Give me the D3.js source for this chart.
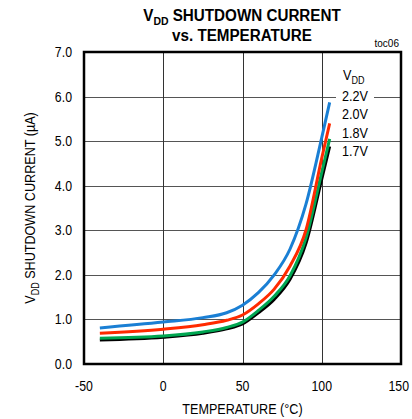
<!DOCTYPE html>
<html><head><meta charset="utf-8">
<script src="https://cdn.jsdelivr.net/npm/d3@7/dist/d3.min.js"></script>
<style>
body{margin:0;background:#fff;}
text{font-family:"Liberation Sans",Arial,sans-serif;}
</style></head>
<body><svg id="c" width="412" height="419"></svg>
<script>
const temps = [-40, 0, 25, 40, 50, 60, 70, 80, 90, 100, 105];
const v22 = [0.81, 0.94, 1.04, 1.15, 1.32, 1.60, 2.00, 2.58, 3.58, 5.08, 5.87];
const v20 = [0.69, 0.78, 0.88, 0.98, 1.10, 1.35, 1.68, 2.20, 3.00, 4.62, 5.40];
const v18 = [0.58, 0.63, 0.72, 0.82, 0.94, 1.20, 1.52, 1.98, 2.82, 4.30, 5.05];
const v17 = [0.54, 0.60, 0.69, 0.79, 0.90, 1.15, 1.45, 1.90, 2.70, 4.15, 4.88];
const seriesNames = ["2.2V", "2.0V", "1.8V", "1.7V"];
const seriesColors = ["#1a7fd4", "#ff2a00", "#00a651", "#000000"];
const xTicks = [-50, 0, 50, 100, 150];
const yTicks = [0, 1, 2, 3, 4, 5, 6, 7];

const svg = d3.select("#c");
const L = 84, R = 401, T = 52, B = 364;
const x = d3.scaleLinear().domain([-50, 150]).range([L, R]);
const y = d3.scaleLinear().domain([0, 7]).range([B, T]);

function squeeze(sel, k) {
  sel.each(function () {
    const w = this.getComputedTextLength();
    d3.select(this).attr("textLength", w * k).attr("lengthAdjust", "spacingAndGlyphs");
  });
  return sel;
}

// grid
const g = svg.append("g");
g.selectAll(".gy").data(yTicks.slice(1, -1)).enter().append("line")
  .attr("x1", L).attr("x2", R).attr("y1", d => Math.round(y(d)) + 0.5).attr("y2", d => Math.round(y(d)) + 0.5)
  .attr("stroke", "#555").attr("stroke-width", 1);
g.selectAll(".gx").data(xTicks.slice(1, -1)).enter().append("line")
  .attr("y1", T).attr("y2", B).attr("x1", d => Math.round(x(d)) + 0.5).attr("x2", d => Math.round(x(d)) + 0.5)
  .attr("stroke", "#333").attr("stroke-width", 1);

const legX = 342;
const legY = [96, 114, 133, 151];

// curves
const line = d3.line().x(d => x(d[0])).y(d => y(d[1])).curve(d3.curveMonotoneX);
const all = [v22, v20, v18, v17];
for (let i = all.length - 1; i >= 0; i--) {
  svg.append("path").datum(temps.map((t, j) => [t, all[i][j]]))
    .attr("d", line).attr("fill", "none").attr("stroke", seriesColors[i])
    .attr("stroke-width", 3).attr("stroke-linejoin", "round").attr("stroke-linecap", "butt");
}

// legend
const leg = svg.append("g");
seriesNames.forEach((n, i) => {
  leg.append("rect").attr("x", legX - 6).attr("y", legY[i] - 9).attr("width", 38).attr("height", 14).attr("fill", "#fff");
  squeeze(leg.append("text").attr("x", legX).attr("y", legY[i] + 5).attr("font-size", 14).text(n), 0.9);
});
const vdd = leg.append("text").attr("x", legX + 1).attr("y", 80).attr("font-size", 14);
vdd.append("tspan").text("V");
vdd.append("tspan").attr("font-size", 10).attr("dy", 4).text("DD");
squeeze(vdd, 0.9);

// frame
svg.append("rect").attr("x", L).attr("y", T).attr("width", R - L).attr("height", B - T)
  .attr("fill", "none").attr("stroke", "#000").attr("stroke-width", 2.5);

// axes tick labels
squeeze(svg.append("g").selectAll("text").data(yTicks).enter().append("text")
  .attr("x", 72).attr("y", d => y(d) + 5).attr("text-anchor", "end").attr("font-size", 14)
  .text(d => d.toFixed(1)), 0.88);
squeeze(svg.append("g").selectAll("text").data(xTicks).enter().append("text")
  .attr("x", (d, i) => i === xTicks.length - 1 ? 409 : x(d))
  .attr("y", 391).attr("text-anchor", (d, i) => i === xTicks.length - 1 ? "end" : "middle").attr("font-size", 14)
  .text(d => d), 0.88);

// axis titles
squeeze(svg.append("text").attr("x", (L + R) / 2).attr("y", 414).attr("text-anchor", "middle").attr("font-size", 14)
  .text("TEMPERATURE (°C)"), 0.9);
const yl = svg.append("text").attr("transform", "translate(35," + ((T + B) / 2) + ") rotate(-90)")
  .attr("text-anchor", "middle").attr("font-size", 14);
yl.append("tspan").text("V");
yl.append("tspan").attr("font-size", 10).attr("dy", 4).text("DD");
yl.append("tspan").attr("dy", -4).text(" SHUTDOWN CURRENT (µA)");
squeeze(yl, 0.9);

// title
const t1 = svg.append("text").attr("x", 242).attr("y", 21).attr("text-anchor", "middle")
  .attr("font-size", 16).attr("font-weight", "bold");
t1.append("tspan").text("V");
t1.append("tspan").attr("font-size", 11).attr("dy", 4).text("DD");
t1.append("tspan").attr("dy", -4).text(" SHUTDOWN CURRENT");
squeeze(t1, 0.95);
squeeze(svg.append("text").attr("x", 242).attr("y", 41).attr("text-anchor", "middle")
  .attr("font-size", 16).attr("font-weight", "bold").text("vs. TEMPERATURE"), 0.95);
svg.append("text").attr("x", 399).attr("y", 47).attr("text-anchor", "end").attr("font-size", 10).text("toc06");
</script></body></html>
